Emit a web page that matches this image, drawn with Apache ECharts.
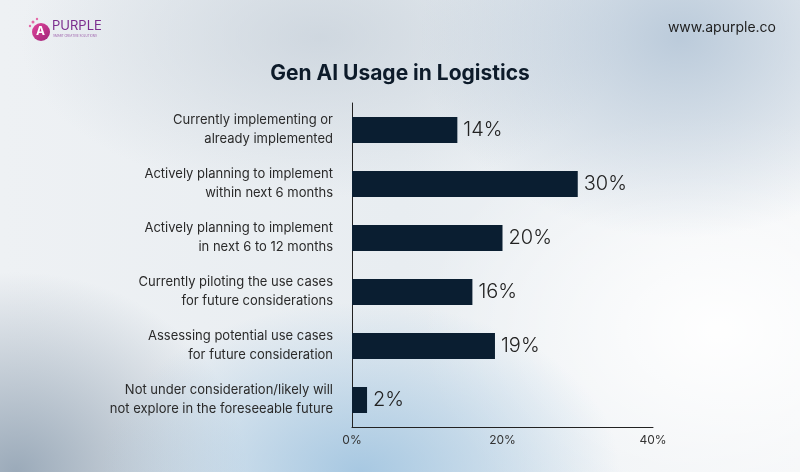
<!DOCTYPE html>
<html>
<head>
<meta charset="utf-8">
<script src="https://cdn.jsdelivr.net/npm/echarts@6/dist/echarts.min.js"></script>
<style>
html,body{margin:0;padding:0;width:800px;height:472px;overflow:hidden;}
body{
  background:
    radial-gradient(ellipse 260px 200px at 85% 8%, rgba(178,196,214,0.85), rgba(178,196,214,0) 100%),
    radial-gradient(ellipse 300px 160px at 40% 8%, rgba(196,206,216,0.7), rgba(196,206,216,0) 100%),
    radial-gradient(ellipse 260px 170px at 45% 100%, rgba(160,196,224,0.9), rgba(160,196,224,0) 100%),
    radial-gradient(ellipse 230px 200px at 2% 100%, rgba(150,166,182,0.95), rgba(150,166,182,0) 100%),
    radial-gradient(ellipse 300px 220px at 90% 70%, rgba(255,255,255,0.95), rgba(255,255,255,0) 100%),
    linear-gradient(90deg, #eef1f4 0%, #e8edf1 50%, #f3f5f7 100%);
}
#chart{width:800px;height:472px;}
</style>
</head>
<body>
<div id="chart"></div>
<script>
const categories = [
  "Currently implementing or\nalready implemented",
  "Actively planning to implement\nwithin next 6 months",
  "Actively planning to implement\nin next 6 to 12 months",
  "Currently piloting the use cases\nfor future considerations",
  "Assessing potential use cases\nfor future consideration",
  "Not under consideration/likely will\nnot explore in the foreseeable future"
];
const values = [14, 30, 20, 16, 19, 2];
const tickValues = [0, 20, 40];

const chart = echarts.init(document.getElementById('chart'), null, {renderer: 'canvas'});
chart.setOption({
  backgroundColor: 'transparent',
  animation: false,
  title: {
    text: 'Gen AI Usage in Logistics',
    left: 'center',
    top: 58,
    textStyle: {fontFamily: 'Inter', fontWeight: 'bold', fontSize: 21, color: '#0d1b2a'}
  },
  graphic: [
    {type: 'circle', shape: {cx: 41, cy: 32, r: 9},
     style: {fill: new echarts.graphic.LinearGradient(0,0,1,1,[{offset:0,color:'#e0449a'},{offset:1,color:'#a0257a'}])}},
    {type: 'text', left: 36, top: 25, style: {text: 'A', fill: '#ffffff', font: 'bold 12px Inter'}},
    {type: 'circle', shape: {cx: 33, cy: 22, r: 1.5}, style: {fill: '#e46aa8'}},
    {type: 'circle', shape: {cx: 37, cy: 19, r: 1.2}, style: {fill: '#e46aa8'}},
    {type: 'circle', shape: {cx: 30, cy: 26, r: 1.2}, style: {fill: '#e46aa8'}},
    {type: 'text', left: 52, top: 20, style: {text: 'PURPLE', fill: '#7b2d8e', font: '13px Inter'}},
    {type: 'text', left: 53, top: 35, style: {text: 'SMART CREATIVE SOLUTIONS', fill: '#9a5aa8', font: '3px Inter'}},
    {type: 'text', right: 24, top: 21, style: {text: 'www.apurple.co', fill: '#1e1e1e', font: '14px Inter'}}
  ],
  grid: {left: 352, right: 147, top: 103, bottom: 45, containLabel: false},
  xAxis: {
    type: 'value', min: tickValues[0], max: tickValues[tickValues.length-1], interval: 20,
    axisLine: {show: true, lineStyle: {color: '#222', width: 1}},
    axisTick: {show: false},
    splitLine: {show: false},
    axisLabel: {formatter: '{value}%', color: '#333', fontFamily: 'Inter', fontSize: 12, margin: 7}
  },
  yAxis: {
    type: 'category', inverse: true, data: categories,
    axisLine: {show: true, lineStyle: {color: '#222', width: 1}},
    axisTick: {show: false},
    axisLabel: {color: '#2a2a2a', fontFamily: 'Inter', fontSize: 13, lineHeight: 19, align: 'right', margin: 19}
  },
  series: [{
    type: 'bar', data: values, barWidth: 26,
    itemStyle: {color: '#0a1e31'},
    label: {show: true, position: 'right', distance: 6, formatter: '{c}%',
      fontFamily: 'Inter', fontWeight: 300, fontSize: 20, color: '#222'}
  }]
});
</script>
</body>
</html>
